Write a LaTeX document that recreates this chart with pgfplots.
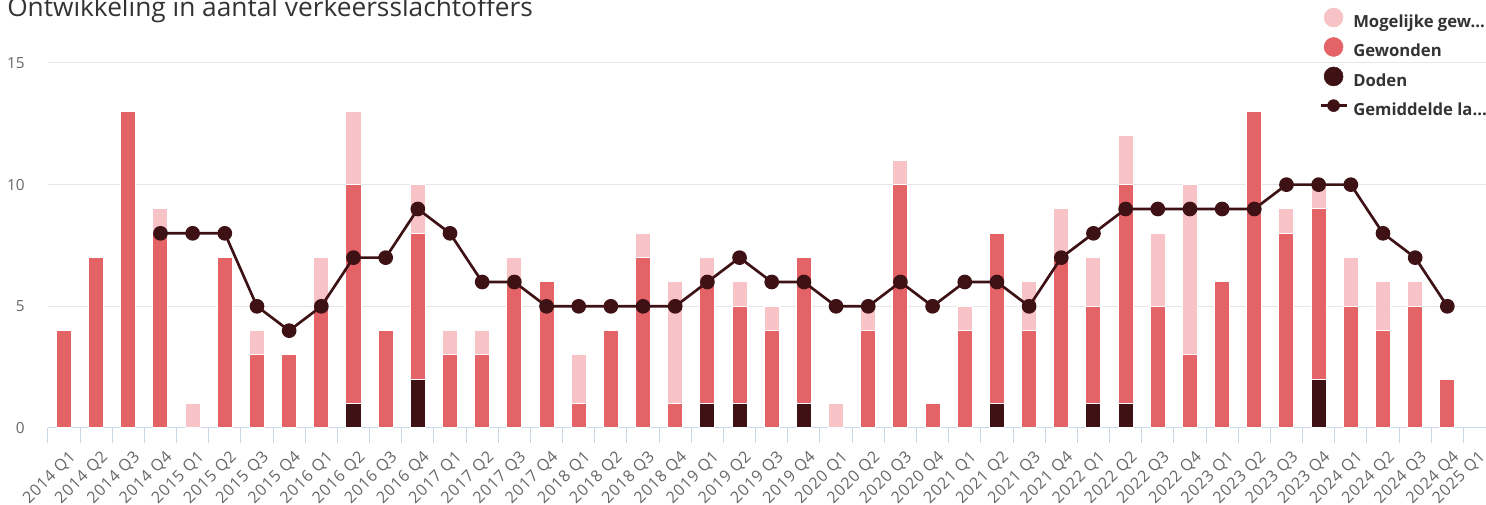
\documentclass[border=0pt]{standalone}
\usepackage{fontspec}
\setmainfont{Open Sans}
\newfontfamily\tickfont{Open Sans}[LetterSpace=5]
\usepackage{pgfplots}
\pgfplotsset{compat=1.18}
\definecolor{dood}{HTML}{3E1115}
\definecolor{gewond}{HTML}{E36366}
\definecolor{mogelijk}{HTML}{F8C3C6}
\definecolor{titlegrey}{HTML}{333333}
\definecolor{tickgrey}{HTML}{666666}
\definecolor{gridgrey}{HTML}{E6E6E6}
\definecolor{axisblue}{HTML}{CCD6EB}

\pgfplotsset{
  chartbox/.style={
    at={(35.9pt,57.75pt)}, anchor=south west,
    scale only axis, width=1085.8pt, height=273.75pt,
    xmin=-0.5, xmax=44.5, ymin=0, ymax=15,
  },
}
% shifts come before the rotation so they act in the page frame
\tikzset{qlabel/.style={xshift=7pt, yshift=-20pt, rotate=45, anchor=east, inner sep=0pt,
  text=tickgrey, font=\tickfont\fontsize{12}{14}\selectfont}}

\begin{document}
\begin{tikzpicture}
\clip (0,0) rectangle (1114.5pt,378.75pt);
\node[anchor=base west, inner sep=0pt, text=titlegrey, font=\fontsize{19.7}{22}\selectfont]
  at (5.25pt,366pt) {Ontwikkeling in aantal verkeersslachtoffers};

\begin{axis}[
  chartbox, clip=false,
  ybar stacked, bar width=11.25pt,
  axis x line*=bottom, axis y line*=left,
  x axis line style={draw=none}, y axis line style={draw=none},
  ytick={0,5,10,15},
  ymajorgrids, grid style={gridgrey, line width=0.75pt},
  major tick length=0pt,
  tick align=outside,
  xtick={0,...,43},
  minor xtick={-0.5,0.5,...,44.5},
  minor tick length=11.25pt,
  minor x tick style={axisblue, line width=0.75pt},
  xticklabels={2014 Q1,2014 Q2,2014 Q3,2014 Q4,2015 Q1,2015 Q2,2015 Q3,2015 Q4,
    2016 Q1,2016 Q2,2016 Q3,2016 Q4,2017 Q1,2017 Q2,2017 Q3,2017 Q4,
    2018 Q1,2018 Q2,2018 Q3,2018 Q4,2019 Q1,2019 Q2,2019 Q3,2019 Q4,
    2020 Q1,2020 Q2,2020 Q3,2020 Q4,2021 Q1,2021 Q2,2021 Q3,2021 Q4,
    2022 Q1,2022 Q2,2022 Q3,2022 Q4,2023 Q1,2023 Q2,2023 Q3,2023 Q4,
    2024 Q1,2024 Q2,2024 Q3,2024 Q4},
  xticklabel style={qlabel},
  yticklabel style={anchor=east, inner sep=0pt, xshift=-17.25pt,
    text=tickgrey, font=\fontsize{11.5}{13}\selectfont},
  /pgf/number format/assume math mode=true,
]
% Doden
\addplot[fill=dood, draw=white, line width=0.75pt] coordinates {
  (0,0) (1,0) (2,0) (3,0) (4,0) (5,0) (6,0) (7,0) (8,0) (9,1) (10,0)
  (11,2) (12,0) (13,0) (14,0) (15,0) (16,0) (17,0) (18,0) (19,0) (20,1)
  (21,1) (22,0) (23,1) (24,0) (25,0) (26,0) (27,0) (28,0) (29,1) (30,0)
  (31,0) (32,1) (33,1) (34,0) (35,0) (36,0) (37,0) (38,0) (39,2) (40,0)
  (41,0) (42,0) (43,0)};
% Gewonden
\addplot[fill=gewond, draw=white, line width=0.75pt] coordinates {
  (0,4) (1,7) (2,13) (3,8) (4,0) (5,7) (6,3) (7,3) (8,5) (9,9) (10,4)
  (11,6) (12,3) (13,3) (14,6) (15,6) (16,1) (17,4) (18,7) (19,1) (20,5)
  (21,4) (22,4) (23,6) (24,0) (25,4) (26,10) (27,1) (28,4) (29,7) (30,4)
  (31,7) (32,4) (33,9) (34,5) (35,3) (36,6) (37,13) (38,8) (39,7) (40,5)
  (41,4) (42,5) (43,2)};
% Mogelijke gewonden
\addplot[fill=mogelijk, draw=white, line width=0.75pt] coordinates {
  (0,0) (1,0) (2,0) (3,1) (4,1) (5,0) (6,1) (7,0) (8,2) (9,3) (10,0)
  (11,2) (12,1) (13,1) (14,1) (15,0) (16,2) (17,0) (18,1) (19,5) (20,1)
  (21,1) (22,1) (23,0) (24,1) (25,1) (26,1) (27,0) (28,1) (29,0) (30,2)
  (31,2) (32,2) (33,2) (34,3) (35,7) (36,0) (37,0) (38,1) (39,1) (40,2)
  (41,2) (42,1) (43,0)};
\draw[axisblue, line width=0.75pt] (rel axis cs:0,0) -- (rel axis cs:1,0);
\node[xshift=-4.5pt, qlabel] at (axis cs:44,0) {2025 Q1};
\end{axis}

\begin{axis}[
  chartbox,
  axis lines=none, xtick=\empty, ytick=\empty,
  legend style={at={(0.878,1.152)}, anchor=north west, draw=none, fill=none,
    inner sep=0pt, row sep=4.5pt, text=titlegrey,
    font=\bfseries\fontsize{12.5}{14}\selectfont,
    nodes={inner sep=0pt, text height=9pt, text depth=3pt},
    /tikz/every odd column/.append style={column sep=4pt}},
  legend cell align=left,
]
\addplot[dood, line width=2pt, mark=*, mark size=4.5pt, forget plot] coordinates {
  (3,8) (4,8) (5,8) (6,5) (7,4) (8,5) (9,7) (10,7) (11,9) (12,8) (13,6)
  (14,6) (15,5) (16,5) (17,5) (18,5) (19,5) (20,6) (21,7) (22,6) (23,6)
  (24,5) (25,5) (26,6) (27,5) (28,6) (29,6) (30,5) (31,7) (32,8) (33,9)
  (34,9) (35,9) (36,9) (37,9) (38,10) (39,10) (40,10) (41,8) (42,7) (43,5)};
\addlegendimage{legend image code/.code={
  \path[draw=none, fill=none] (0pt,-2.8pt) rectangle (19.5pt,11.4pt);
  \fill[mogelijk] (9.75pt,4.3pt) circle (7.1pt);}}
\addlegendentry{Mogelijke gew...}
\addlegendimage{legend image code/.code={
  \path[draw=none, fill=none] (0pt,-2.8pt) rectangle (19.5pt,11.4pt);
  \fill[gewond] (9.75pt,4.3pt) circle (7.1pt);}}
\addlegendentry{Gewonden}
\addlegendimage{legend image code/.code={
  \path[draw=none, fill=none] (0pt,-2.8pt) rectangle (19.5pt,11.4pt);
  \fill[dood] (9.75pt,4.3pt) circle (7.1pt);}}
\addlegendentry{Doden}
\addlegendimage{legend image code/.code={
  \path[draw=none, fill=none] (0pt,-2.8pt) rectangle (19.5pt,11.4pt);
  \draw[dood, line width=2pt] (0pt,4.3pt) -- (19.5pt,4.3pt);
  \fill[dood] (9.75pt,4.3pt) circle (4.5pt);}}
\addlegendentry{Gemiddelde la...}
\end{axis}
\end{tikzpicture}
\end{document}
